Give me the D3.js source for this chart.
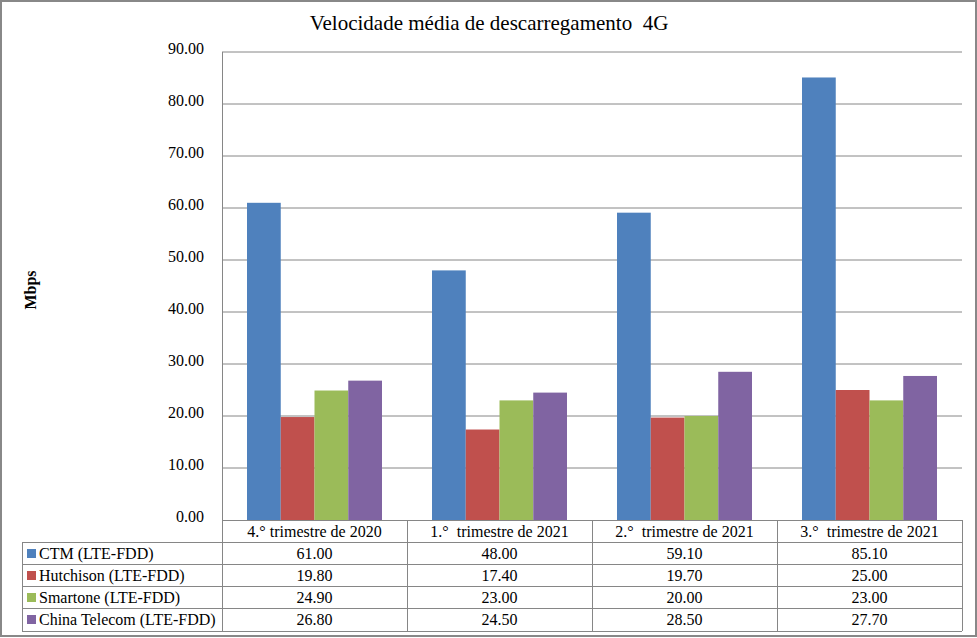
<!DOCTYPE html>
<html><head><meta charset="utf-8">
<script src="https://cdn.jsdelivr.net/npm/d3@7"></script>
<style>body{margin:0;background:#fff}svg{display:block}</style>
</head><body><svg id="c" width="977" height="638"></svg>
<script>
const categories = ["4.° trimestre de 2020", "1.°  trimestre de 2021", "2.°  trimestre de 2021", "3.°  trimestre de 2021"];
const seriesNames = ["CTM (LTE-FDD)", "Hutchison (LTE-FDD)", "Smartone (LTE-FDD)", "China Telecom (LTE-FDD)"];
const ctm = [61.00, 48.00, 59.10, 85.10];
const hutchison = [19.80, 17.40, 19.70, 25.00];
const smartone = [24.90, 23.00, 20.00, 23.00];
const chinaTelecom = [26.80, 24.50, 28.50, 27.70];
const yTicks = [0, 10, 20, 30, 40, 50, 60, 70, 80, 90];
const colors = ["#4F81BD", "#C0504D", "#9BBB59", "#8064A2"];
const seriesValues = [ctm, hutchison, smartone, chinaTelecom];

const FONT = '"Liberation Serif", "Times New Roman", "DejaVu Serif", serif';
const svg = d3.select("#c").attr("font-family", FONT);
const L = 222, R = 962, T = 52, B = 520;
const grey = "#868686";

svg.append("rect").attr("x", 1).attr("y", 1).attr("width", 975).attr("height", 635)
  .attr("fill", "#fff").attr("stroke", "#888").attr("stroke-width", 2);

svg.append("text").attr("x", 489).attr("y", 30).attr("text-anchor", "middle")
  .attr("font-size", 21).style("white-space", "pre").text("Velocidade média de descarregamento  4G");

const y = d3.scaleLinear().domain([0, 90]).range([B, T]);
const x = d3.scaleBand().domain(categories).range([L, R]);
const inner = d3.scaleBand().domain(d3.range(4)).range([25, x.bandwidth() - 25]);

// gridlines
svg.append("g").selectAll("line").data(yTicks.filter(d => d > 0)).join("line")
  .attr("x1", L).attr("x2", R).attr("y1", d => y(d)).attr("y2", d => y(d))
  .attr("stroke", grey).attr("stroke-width", 1);

// y axis labels
const yAxis = d3.axisLeft(y).tickValues(yTicks).tickFormat(d3.format(".2f")).tickSize(0).tickPadding(18);
const gy = svg.append("g").attr("transform", `translate(${L},0)`).call(yAxis);
gy.attr("font-family", FONT);
gy.select(".domain").remove();
gy.selectAll("text").attr("font-size", 16).attr("fill", "#000").attr("dy", "0.1em");

// bars
seriesValues.forEach((vals, si) => {
  svg.append("g").selectAll("rect").data(vals).join("rect")
    .attr("x", (d, i) => x(categories[i]) + inner(si))
    .attr("width", inner.bandwidth())
    .attr("y", d => y(d)).attr("height", d => B - y(d))
    .attr("fill", colors[si]);
});

// axis lines
svg.append("line").attr("x1", L + 0.5).attr("x2", L + 0.5).attr("y1", T).attr("y2", B).attr("stroke", grey);
svg.append("line").attr("x1", L).attr("x2", R).attr("y1", B + 0.5).attr("y2", B + 0.5).attr("stroke", grey);

// y title
svg.append("text").attr("transform", "translate(36,290) rotate(-90)")
  .attr("text-anchor", "middle").attr("font-size", 16).attr("font-weight", "bold").text("Mbps");

// data table
const rowH = 22;
const tbl = svg.append("g");
const TL = 22;
categories.forEach((c, i) => {
  tbl.append("text").attr("x", x(c) + x.bandwidth() / 2).attr("y", B + 17)
    .attr("text-anchor", "middle").attr("font-size", 16).style("white-space", "pre").text(c);
});
for (let r = 1; r <= 5; r++) {
  const yy = B + r * rowH + (r === 5 ? 1 : 0);
  tbl.append("line").attr("x1", TL).attr("x2", R).attr("y1", yy + 0.5).attr("y2", yy + 0.5).attr("stroke", grey);
}
[L, ...categories.map(c => x(c) + x.bandwidth())].forEach(vx => {
  tbl.append("line").attr("x1", vx + 0.5).attr("x2", vx + 0.5).attr("y1", B).attr("y2", B + 5 * rowH + 1).attr("stroke", grey);
});
tbl.append("line").attr("x1", TL + 0.5).attr("x2", TL + 0.5).attr("y1", B + rowH).attr("y2", B + 5 * rowH + 1).attr("stroke", grey);

seriesNames.forEach((name, si) => {
  const ry = B + (si + 1) * rowH;
  tbl.append("rect").attr("x", 27).attr("y", ry + 7).attr("width", 9).attr("height", 9).attr("fill", colors[si]);
  tbl.append("text").attr("x", 39).attr("y", ry + 17).attr("font-size", 16).text(name);
  seriesValues[si].forEach((v, i) => {
    tbl.append("text").attr("x", x(categories[i]) + x.bandwidth() / 2).attr("y", ry + 17)
      .attr("text-anchor", "middle").attr("font-size", 16).text(d3.format(".2f")(v));
  });
});
</script></body></html>
